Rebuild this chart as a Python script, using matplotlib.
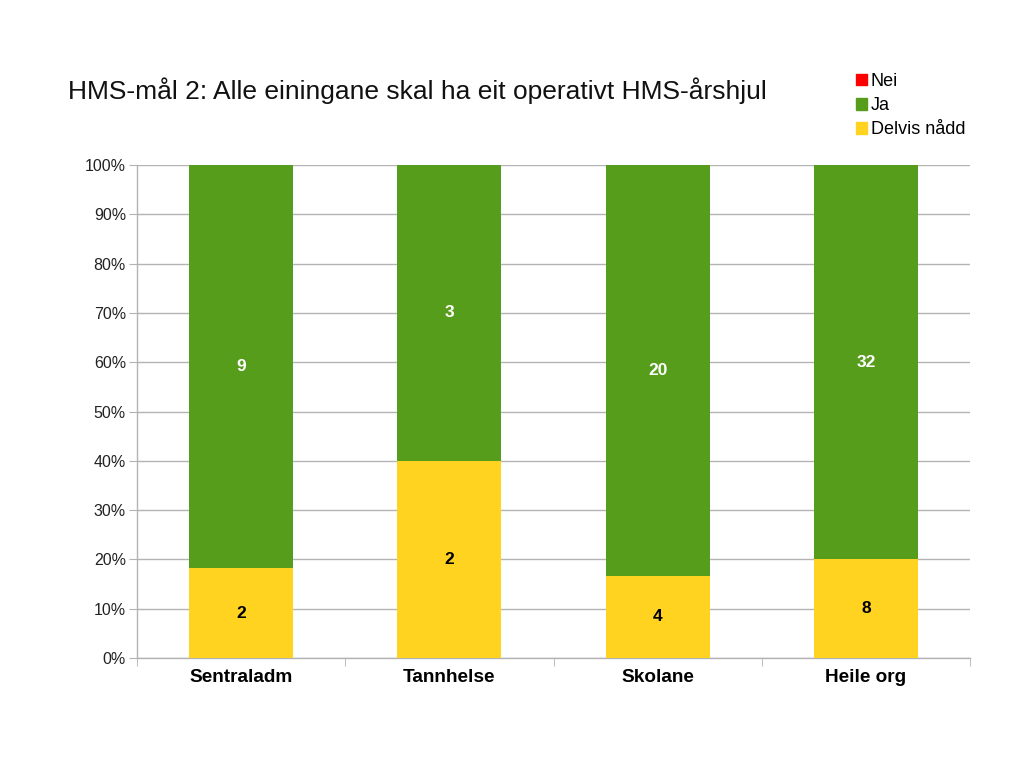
import matplotlib
matplotlib.use("Agg")
import matplotlib.pyplot as plt
from matplotlib.patches import Patch
import numpy as np

plt.rcParams['font.family'] = ['Liberation Sans', 'DejaVu Sans']

categories = ["Sentraladm", "Tannhelse", "Skolane", "Heile org"]
nei = [0, 0, 0, 0]
ja = [9, 3, 20, 32]
delvis = [2, 2, 4, 8]
series_names = ["Nei", "Ja", "Delvis nådd"]
colors = {"Nei": "#ff0000", "Ja": "#579d1c", "Delvis nådd": "#ffd320"}
yticks = [0, 10, 20, 30, 40, 50, 60, 70, 80, 90, 100]

fig = plt.figure(figsize=(10.23, 7.68), dpi=100)
ax = fig.add_axes([137/1023, 1-658/768, (970-137)/1023, (658-165)/768])

x = np.arange(len(categories))
tot = np.array(nei) + np.array(ja) + np.array(delvis)
d_pct = np.array(delvis) / tot * 100
j_pct = np.array(ja) / tot * 100
n_pct = np.array(nei) / tot * 100

w = 0.5
ax.bar(x, d_pct, w, color=colors["Delvis nådd"], zorder=3)
ax.bar(x, j_pct, w, bottom=d_pct, color=colors["Ja"], zorder=3)
ax.bar(x, n_pct, w, bottom=d_pct + j_pct, color=colors["Nei"], zorder=3)

for i in range(len(categories)):
    ax.text(x[i], d_pct[i] / 2, str(delvis[i]), ha='center', va='center',
            fontsize=12.5, fontweight='bold', color='black', zorder=4)
    ax.text(x[i], d_pct[i] + j_pct[i] / 2, str(ja[i]), ha='center', va='center',
            fontsize=12.5, fontweight='bold', color='white', zorder=4)

ax.set_xlim(-0.5, len(categories) - 0.5)
ax.set_ylim(0, 100)
ax.set_yticks(yticks)
ax.set_yticklabels([f"{v}%" for v in yticks], fontsize=11.5, color='#222222')
ax.yaxis.grid(True, color='#b3b3b3', linewidth=1, zorder=0)
ax.set_xticks(x)
ax.set_xticklabels(categories, fontsize=13.7, fontweight='bold')
ax.tick_params(axis='x', length=0, pad=8)
ax.set_xticks(np.arange(-0.5, len(categories), 1), minor=True)
ax.tick_params(axis='x', which='minor', length=6, color='#b3b3b3')
ax.tick_params(axis='y', length=6, color='#b3b3b3', pad=2)
for s in ['top', 'right']:
    ax.spines[s].set_visible(False)
for s in ['left', 'bottom']:
    ax.spines[s].set_color('#b3b3b3')
    ax.spines[s].set_linewidth(1)

fig.text(68/1023, 1-91/768, "HMS-mål 2: Alle einingane skal ha eit operativt HMS-årshjul",
         fontsize=19, ha='left', va='center', color='#111111')

handles = [Patch(color=colors[n]) for n in series_names]
fig.legend(handles, series_names, loc='upper left', bbox_to_anchor=(856/1023, 1-73/768),
           frameon=False, fontsize=13, handlelength=0.62, handleheight=0.62,
           handletextpad=0.2, labelspacing=0.4, borderpad=0, borderaxespad=0)

fig.savefig("out.png", dpi=100)
